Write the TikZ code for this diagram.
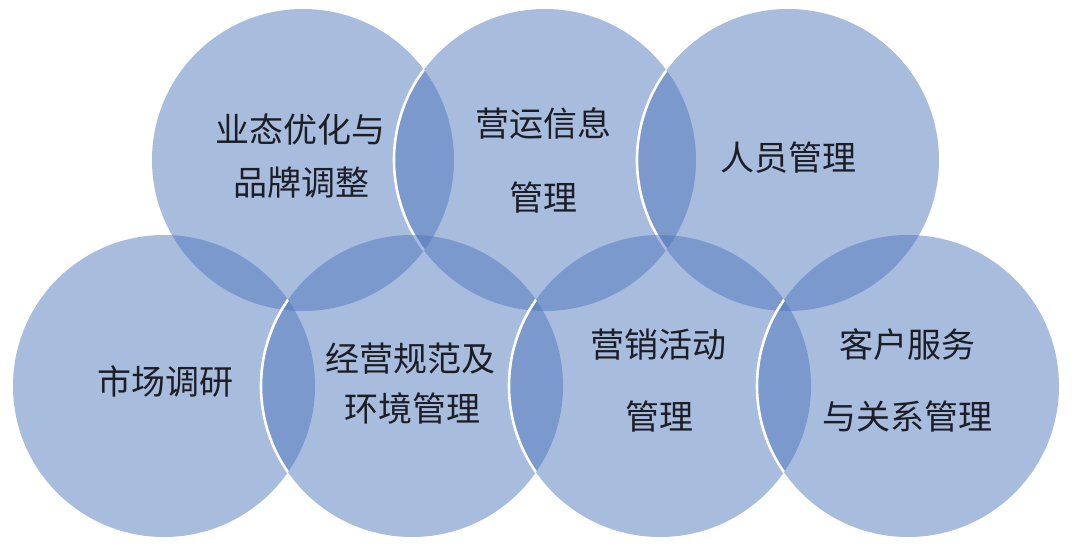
\documentclass[tikz,border=0pt]{standalone}
\usepackage{fontspec}
\setmainfont{Noto Sans CJK SC}
\definecolor{cblue}{RGB}{75,116,187}
\definecolor{tcol}{RGB}{28,30,38}
\tikzset{
  disc/.style={fill=cblue, fill opacity=0.48},
  rim/.style={draw=white, line width=2.6pt},
  lbl/.style={anchor=base, inner sep=0pt, text=tcol, font=\fontsize{34pt}{36pt}\selectfont}
}
\begin{document}
\begin{tikzpicture}[x=1pt,y=-1pt]
\useasboundingbox (0,0) rectangle (1080,552);
\fill[white] (0,0) rectangle (1080,552);
% top row
\coordinate (t1) at (303,160);
\coordinate (t2) at (545,160);
\coordinate (t3) at (788,160);
% bottom row
\coordinate (b1) at (164,386);
\coordinate (b2) at (412,386);
\coordinate (b3) at (660,386);
\coordinate (b4) at (908,386);
\foreach \c in {t1,t2,t3} \fill[disc] (\c) circle[radius=151pt];
\begin{scope}\clip (t1) circle[radius=151pt]; \draw[rim] (t2) circle[radius=151pt]; \end{scope}
\begin{scope}\clip (t2) circle[radius=151pt]; \draw[rim] (t3) circle[radius=151pt]; \end{scope}
\foreach \c in {b1,b2,b3,b4} \fill[disc] (\c) circle[radius=151pt];
\begin{scope}\clip (b1) circle[radius=151pt]; \draw[rim] (b2) circle[radius=151pt]; \end{scope}
\begin{scope}\clip (b2) circle[radius=151pt]; \draw[rim] (b3) circle[radius=151pt]; \end{scope}
\begin{scope}\clip (b3) circle[radius=151pt]; \draw[rim] (b4) circle[radius=151pt]; \end{scope}
% labels
\node[lbl] (l1a) at (300,142) {业态优化与};
\node[lbl] (l1b) at (301,195) {品牌调整};
\node[lbl] (l2a) at (543,136) {营运信息};
\node[lbl] (l2b) at (543,210) {管理};
\node[lbl] (l3)  at (788,170) {人员管理};
\node[lbl] (l4)  at (165,394) {市场调研};
\node[lbl] (l5a) at (410,371) {经营规范及};
\node[lbl] (l5b) at (412,421) {环境管理};
\node[lbl] (l6a) at (658,357) {营销活动};
\node[lbl] (l6b) at (659,429) {管理};
\node[lbl] (l7a) at (907,357) {客户服务};
\node[lbl] (l7b) at (907,429) {与关系管理};
\end{tikzpicture}
\end{document}
